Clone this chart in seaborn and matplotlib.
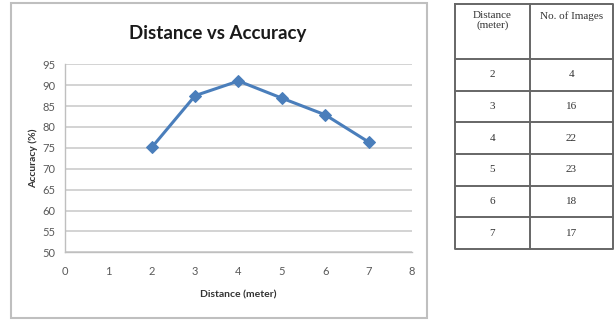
import matplotlib
matplotlib.use("Agg")
import matplotlib.pyplot as plt
from matplotlib.patches import Rectangle
import seaborn as sns
import pandas as pd

# ---- data ----
distance = [2, 3, 4, 5, 6, 7]
accuracy = [75.1, 87.5, 91.0, 86.9, 82.9, 76.4]
images = [4, 16, 22, 23, 18, 17]
title = "Distance vs Accuracy"
xlabel = "Distance (meter)"
ylabel = "Accuracy (%)"
table_header = ["Distance\n(meter)", "No. of Images"]

df = pd.DataFrame({"Distance": distance, "Accuracy": accuracy})

sns.set_theme(style="white")
plt.rcParams["font.family"] = ["Lato", "DejaVu Sans"]

W, H = 616, 323
fig = plt.figure(figsize=(W / 100, H / 100), dpi=100)

def fbox(x0, y0, x1, y1):
    return [x0 / W, 1 - y1 / H, (x1 - x0) / W, (y1 - y0) / H]

# chart border
fig.patches.append(Rectangle((11 / W, 1 - 318 / H), (427 - 11) / W, (318 - 3) / H,
                             transform=fig.transFigure, fill=False,
                             edgecolor="#BFBFBF", linewidth=1.5))

ax = fig.add_axes(fbox(65, 64.3, 412, 252.3))
sns.lineplot(data=df, x="Distance", y="Accuracy", ax=ax, color="#4A7EBB",
             linewidth=2.2, marker="D", markersize=6.5, markeredgecolor="#4A7EBB")
ax.set_xlim(0, 8)
ax.set_ylim(50, 95)
ax.set_xticks(range(0, 9))
ax.set_yticks(range(50, 96, 5))
ax.grid(axis="y", color="#D0D0D0", linewidth=1.3)
ax.set_axisbelow(True)
for s in ["top", "right"]:
    ax.spines[s].set_visible(False)
for s in ["left", "bottom"]:
    ax.spines[s].set_color("#BFBFBF")
    ax.spines[s].set_linewidth(1.0)
ax.tick_params(axis="x", which="major", length=4, color="#BFBFBF", direction="out",
               labelsize=8, labelcolor="#595959", pad=6)
ax.tick_params(axis="y", which="major", length=4, color="#BFBFBF", direction="out",
               labelsize=8, labelcolor="#595959", pad=3)
ax.set_xlabel("")
ax.set_ylabel("")
fig.text(218 / W, 1 - 33 / H, title, ha="center", va="center", fontsize=13.5,
         fontweight="bold", color="#1a1a1a")
fig.text(238 / W, 1 - 295 / H, xlabel, ha="center", va="center", fontsize=7.5,
         fontweight="bold", color="#333333")
fig.text(33 / W, 1 - 158 / H, ylabel, ha="center", va="center", fontsize=7.5,
         fontweight="bold", color="#333333", rotation=90)

# ---- table ----
tx0, ty0, tx1, ty1 = 455, 4, 613, 249
tax = fig.add_axes(fbox(tx0, ty0, tx1, ty1))
tw, th = tx1 - tx0, ty1 - ty0
col_div = 75
head_h = 55
row_h = (th - head_h) / len(distance)
tax.set_xlim(0, tw)
tax.set_ylim(th, 0)
tax.axis("off")
lc = "#666666"
lw = 1.4
tax.plot([0, tw, tw, 0, 0], [0, 0, th, th, 0], color=lc, lw=lw, clip_on=False)
tax.plot([col_div, col_div], [0, th], color=lc, lw=lw, clip_on=False)
for i in range(len(distance)):
    y = head_h + i * row_h
    tax.plot([0, tw], [y, y], color=lc, lw=lw, clip_on=False)
serif = ["Liberation Serif", "DejaVu Serif"]
fs = 8
tax.text(col_div / 2, 7, table_header[0], ha="center", va="top", fontsize=fs,
         family=serif, color="#333333", linespacing=1.05)
tax.text((col_div + tw) / 2, 7, table_header[1], ha="center", va="top", fontsize=fs,
         family=serif, color="#333333")
for i, (d, n) in enumerate(zip(distance, images)):
    yc = head_h + (i + 0.5) * row_h
    tax.text(col_div / 2, yc, str(d), ha="center", va="center", fontsize=fs,
             family=serif, color="#333333")
    tax.text((col_div + tw) / 2, yc, str(n), ha="center", va="center", fontsize=fs,
             family=serif, color="#333333")

fig.savefig("out.png", dpi=100)
